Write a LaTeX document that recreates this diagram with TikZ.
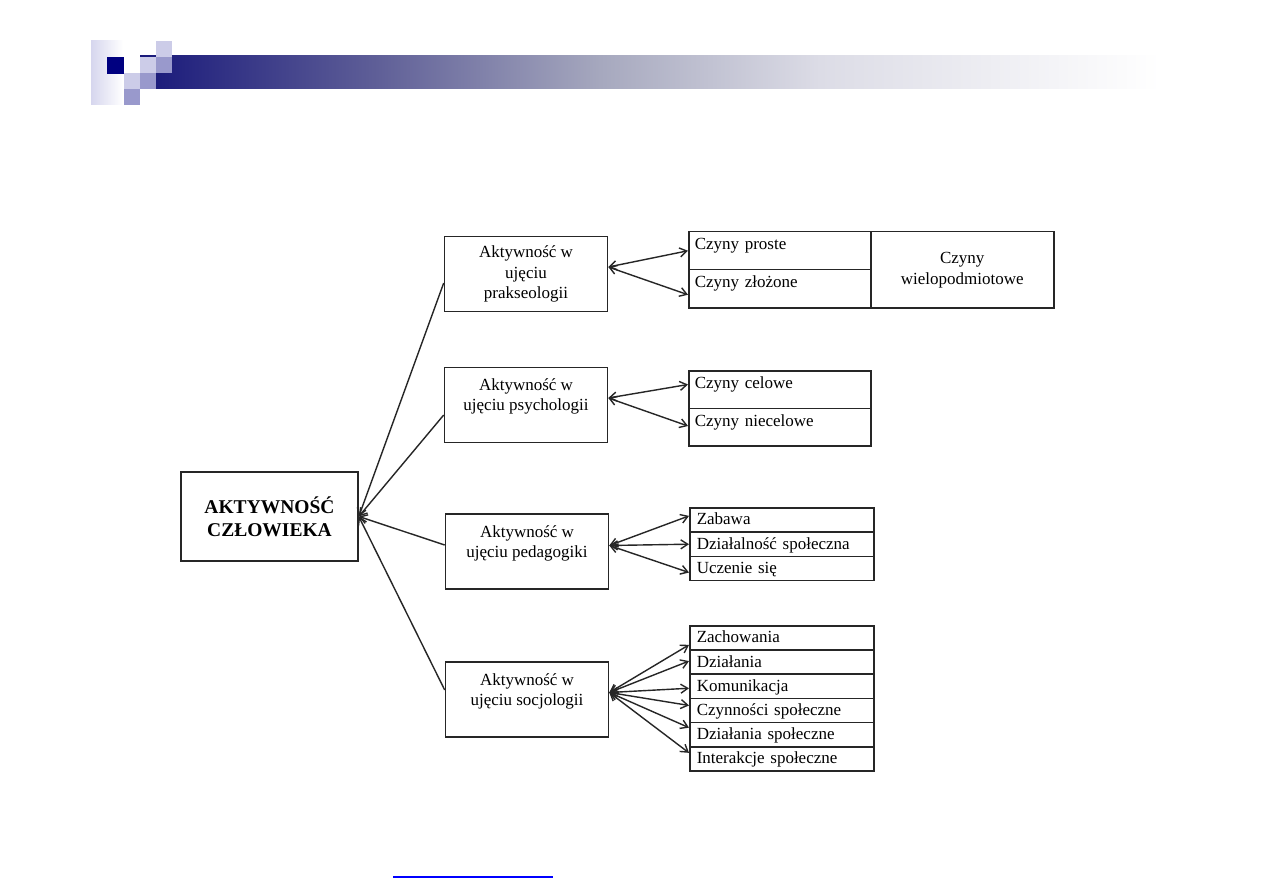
\documentclass[tikz,border=0pt]{standalone}
\usepackage{fontspec}
\setmainfont{Liberation Serif}
\usepackage{xcolor}
\usepackage{tikz}
\usetikzlibrary{arrows.meta, calc}

\definecolor{hdrnavy}{RGB}{0,0,128}
\definecolor{hdrlav}{RGB}{214,214,238}
\definecolor{hdrlight}{RGB}{204,204,232}
\definecolor{hdrmid}{RGB}{153,153,204}
\definecolor{hdrA}{RGB}{24,24,122}
\definecolor{hdrB}{RGB}{96,96,152}
\definecolor{hdrC}{RGB}{166,168,190}
\definecolor{hdrD}{RGB}{220,220,230}

\begin{document}
\begin{tikzpicture}[
    x=1pt, y=-1pt,
    box/.style={rectangle, draw=black!85, line width=1.6pt, minimum width=163pt, minimum height=75pt, align=center, inner sep=2pt, font=\fontsize{17}{20.4}\selectfont},
    mainbox/.style={box, minimum width=177pt, minimum height=89pt, font=\fontsize{19.5}{23}\selectfont\bfseries},
    cell/.style={rectangle, draw=black!85, line width=1.5pt, anchor=north west, minimum width=184pt, minimum height=24.3pt, inner xsep=6pt, inner ysep=0pt, text width=170pt, align=left, text height=12pt, text depth=2pt, font=\fontsize{17}{20.4}\selectfont},
    tallcell/.style={cell, minimum width=182pt, minimum height=38pt, text depth=14pt},
    bigcell/.style={rectangle, draw=black!85, line width=1.5pt, anchor=north west, minimum width=183pt, minimum height=76pt, align=center, inner sep=2pt, font=\fontsize{17}{21}\selectfont},
    arr/.style={line width=1.4pt, black!85, {Straight Barb[length=7pt,width=9pt]}-},
    biarr/.style={line width=1.4pt, black!85, {Straight Barb[length=7pt,width=9pt]}-{Straight Barb[length=7pt,width=9pt]}}
]
\useasboundingbox (0,0) rectangle (1263,893);
\fill[white] (0,0) rectangle (1263,893);

% --- Header ---
\shade[left color=hdrlav, right color=white] (91,41) rectangle (123,105);
\fill[hdrnavy] (107,57) rectangle (124,74);
\shade[left color=hdrA, right color=hdrB] (140,56) rectangle (380,89);
\shade[left color=hdrB, right color=hdrC] (380,56) rectangle (600,89);
\shade[left color=hdrC, right color=hdrD] (600,56) rectangle (820,89);
\shade[left color=hdrD, right color=white] (820,56) rectangle (1160,89);
\fill[hdrlight] (124,73) rectangle (140,89);
\fill[hdrmid] (124,89) rectangle (140,105);
\fill[hdrlight] (140,57) rectangle (156,73);
\fill[hdrmid] (140,73) rectangle (156,89);
\fill[hdrlight] (156,41) rectangle (172,57);
\fill[hdrmid] (156,57) rectangle (172,73);

% --- Main box and views ---
\node[mainbox] (main) at (269.5,516.5) {AKTYWNOŚĆ\\CZŁOWIEKA};
\node[box] (prak) at (526,274) {Aktywność w\\ujęciu\\prakseologii};
\node[box] (psych) at (526,405) {Aktywność w\\ujęciu psychologii\\\mbox{}};
\node[box] (ped) at (527,551.5) {Aktywność w\\ujęciu pedagogiki\\\mbox{}};
\node[box] (soc) at (527,699.5) {Aktywność w\\ujęciu socjologii\\\mbox{}};
\draw[arr] (main.east) -- ($(prak.west)+(0,9)$);
\draw[arr] (main.east) -- ($(psych.west)+(0,10)$);
\draw[arr] (main.east) -- ($(ped.west)+(0,-6.5)$);
\draw[arr] (main.east) -- ($(soc.west)+(0,-9.5)$);

% --- Prakseologia ---
\node[tallcell] (proste) at (688,231) {Czyny proste};
\node[tallcell] (zlozone) at (688,269) {Czyny złożone};
\node[bigcell] (wielo) at (870,231) {Czyny\\wielopodmiotowe};
\draw[biarr] ($(prak.east)+(0,-7)$) -- (proste.west);
\draw[biarr] ($(prak.east)+(0,-7)$) -- ($(zlozone.west)+(0,6)$);

% --- Psychologia ---
\node[tallcell, minimum height=37.5pt] (celowe) at (688,370) {Czyny celowe};
\node[tallcell, minimum height=37.5pt] (niecel) at (688,407.5) {Czyny niecelowe};
\draw[biarr] ($(psych.east)+(0,-7)$) -- ($(celowe.west)+(0,-5)$);
\draw[biarr] ($(psych.east)+(0,-7)$) -- ($(niecel.west)+(0,-1)$);

% --- Pedagogika ---
\node[cell] (zab) at (689,507) {Zabawa};
\node[cell] (dzsp) at (689,531.3) {Działalność społeczna};
\node[cell] (ucz) at (689,555.6) {Uczenie się};
\draw[biarr] ($(ped.east)+(0,-6)$) -- ($(zab.west)+(0,-4)$);
\draw[biarr] ($(ped.east)+(0,-6)$) -- (dzsp.west);
\draw[biarr] ($(ped.east)+(0,-6)$) -- ($(ucz.west)+(0,4)$);

% --- Socjologia ---
\node[cell, minimum height=24.2pt] (zach) at (689,625) {Zachowania};
\node[cell, minimum height=24.2pt] (dzial) at (689,649.2) {Działania};
\node[cell, minimum height=24.2pt] (kom) at (689,673.4) {Komunikacja};
\node[cell, minimum height=24.2pt] (czyn) at (689,697.6) {Czynności społeczne};
\node[cell, minimum height=24.2pt] (dzsp2) at (689,721.8) {Działania społeczne};
\node[cell, minimum height=24.2pt] (inter) at (689,746) {Interakcje społeczne};
\draw[biarr] ($(soc.east)+(0,-7)$) -- ($(zach.west)+(0,7)$);
\draw[biarr] ($(soc.east)+(0,-7)$) -- ($(dzial.west)+(0,-1)$);
\draw[biarr] ($(soc.east)+(0,-7)$) -- ($(kom.west)+(0,2)$);
\draw[biarr] ($(soc.east)+(0,-7)$) -- ($(czyn.west)+(0,-5)$);
\draw[biarr] ($(soc.east)+(0,-7)$) -- ($(dzsp2.west)+(0,-7)$);
\draw[biarr] ($(soc.east)+(0,-7)$) -- ($(inter.west)+(0,-6)$);

% --- Footer link ---
\draw[blue, line width=2pt] (393,877) -- (553,877);
\end{tikzpicture}
\end{document}
